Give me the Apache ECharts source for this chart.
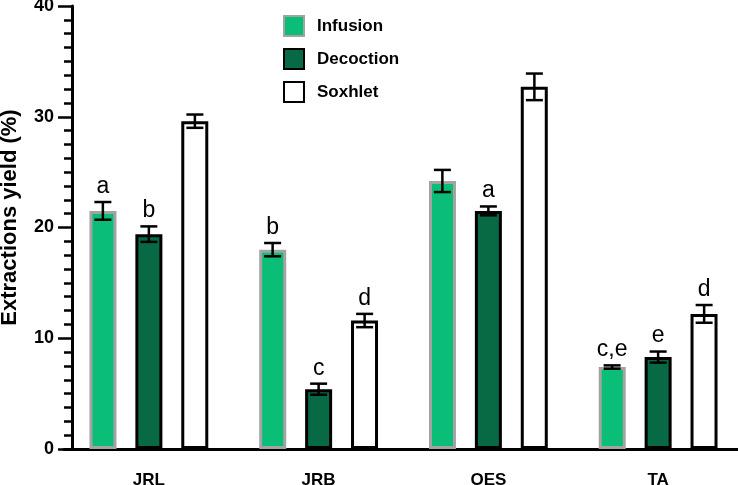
<!DOCTYPE html>
<html>
<head>
<meta charset="utf-8">
<script src="https://cdn.jsdelivr.net/npm/echarts@6/dist/echarts.min.js"></script>
<style>
    html, body { margin: 0; padding: 0; background: #fff; }
    #chart { width: 738px; height: 485px; }
</style>
</head>
<body>
<div id="chart"></div>
<script>
    var categories = ['JRL', 'JRB', 'OES', 'TA']
    var seriesNames = ['Infusion', 'Decoction', 'Soxhlet']
    var infusion = [21.5, 18.0, 24.2, 7.4]
    var decoction = [19.4, 5.4, 21.5, 8.3]
    var soxhlet = [29.6, 11.6, 32.7, 12.2]
    var infusionErr = [0.8, 0.6, 1.0, 0.15]
    var decoctionErr = [0.7, 0.5, 0.4, 0.5]
    var soxhletErr = [0.6, 0.6, 1.2, 0.8]
    var infusionLetters = ['a', 'b', '', 'c,e']
    var decoctionLetters = ['b', 'c', 'a', 'e']
    var soxhletLetters = ['', 'd', '', 'd']

    var fontFam = '"Liberation Sans", Arial, sans-serif'
    var barOffsets = [-46, 0, 46]

    function errSeries (name, values, errs, letters, k) {
        return {
            name: name + ' err',
            type: 'custom',
            z: 5,
            data: values.map(function (v, i) { return [i, v, errs[i]] }),
            renderItem: function (params, api) {
                var i = api.value(0)
                var v = api.value(1)
                var e = api.value(2)
                var top = api.coord([i, v + e])
                var bot = api.coord([i, v - e])
                var x = top[0] + barOffsets[k]
                var cap = 8.5
                var ls = { stroke: '#000', lineWidth: 2.5 }
                var kids = [
                    { type: 'line', shape: { x1: x, y1: top[1], x2: x, y2: bot[1] }, style: ls },
                    { type: 'line', shape: { x1: x - cap, y1: top[1], x2: x + cap, y2: top[1] }, style: ls },
                    { type: 'line', shape: { x1: x - cap, y1: bot[1], x2: x + cap, y2: bot[1] }, style: ls }
                ]
                var lab = letters[params.dataIndex]
                if (lab) {
                    kids.push({
                        type: 'text',
                        style: {
                            x: x, y: top[1] - 4, text: lab,
                            fill: '#000', font: '23px ' + fontFam,
                            align: 'center', verticalAlign: 'bottom'
                        }
                    })
                }
                return { type: 'group', children: kids }
            }
        }
    }

    var option = {
        animation: false,
        backgroundColor: '#fff',
        grid: { left: 64, right: -5, top: 6, bottom: 36, outerBoundsMode: 'none', containLabel: false },
        legend: {
            orient: 'vertical',
            left: 283,
            top: 15,
            padding: 0,
            itemWidth: 20,
            itemHeight: 20,
            itemGap: 11,
            icon: 'rect',
            data: seriesNames,
            textStyle: { fontFamily: fontFam, fontWeight: 'bold', fontSize: 17, lineHeight: 20, color: '#000', padding: [0, 0, 0, 8] }
        },
        xAxis: {
            type: 'category',
            data: categories,
            axisLine: { lineStyle: { color: '#000', width: 3 } },
            axisTick: { alignWithLabel: true, length: 14, lineStyle: { color: '#000', width: 3 } },
            axisLabel: { margin: 23, color: '#000', fontFamily: fontFam, fontWeight: 'bold', fontSize: 17 }
        },
        yAxis: {
            type: 'value',
            min: 0,
            max: 40,
            interval: 10,
            offset: -8,
            name: 'Extractions yield (%)',
            nameLocation: 'middle',
            nameGap: 51,
            nameTextStyle: { fontFamily: fontFam, fontWeight: 'bold', fontSize: 22, color: '#000', padding: [0, 0, 0, 20] },
            axisLine: { show: true, lineStyle: { color: '#000', width: 3 } },
            axisTick: { show: true, length: 14, lineStyle: { color: '#000', width: 2.5 } },
            minorTick: { show: true, splitNumber: 8, length: 8, lineStyle: { color: '#000', width: 2.5 } },
            axisLabel: { margin: 18, color: '#000', fontFamily: fontFam, fontWeight: 'bold', fontSize: 18 },
            splitLine: { show: false }
        },
        series: [
            {
                name: 'Infusion', type: 'bar', data: infusion,
                barWidth: 27, barGap: '70%',
                itemStyle: { color: '#0BBE78', borderColor: '#A3A3A3', borderWidth: 3 }
            },
            {
                name: 'Decoction', type: 'bar', data: decoction,
                barWidth: 27, barGap: '70%',
                itemStyle: { color: '#076A45', borderColor: '#000', borderWidth: 3 }
            },
            {
                name: 'Soxhlet', type: 'bar', data: soxhlet,
                barWidth: 27, barGap: '70%',
                itemStyle: { color: '#fff', borderColor: '#000', borderWidth: 3 }
            },
            errSeries('Infusion', infusion, infusionErr, infusionLetters, 0),
            errSeries('Decoction', decoction, decoctionErr, decoctionLetters, 1),
            errSeries('Soxhlet', soxhlet, soxhletErr, soxhletLetters, 2)
        ]
    }

    var myChart = echarts.init(document.getElementById('chart'))
    myChart.setOption(option)
</script>
</body>
</html>
